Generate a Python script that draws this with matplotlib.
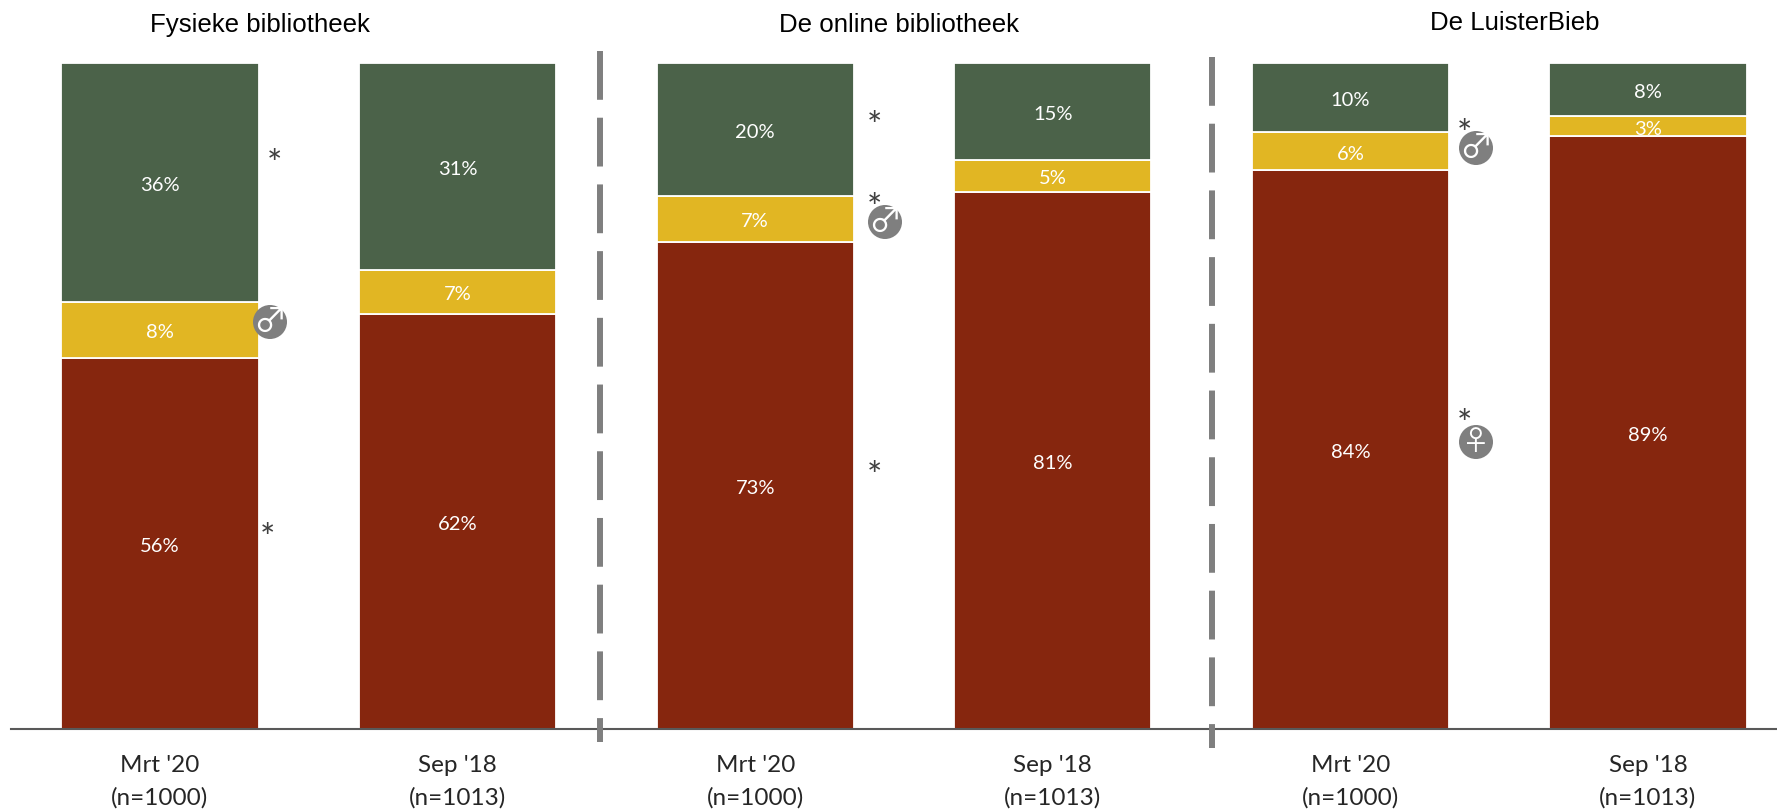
import matplotlib
matplotlib.use("Agg")
import matplotlib.pyplot as plt
from matplotlib.lines import Line2D
from matplotlib.patches import Ellipse
from matplotlib.transforms import Affine2D
import numpy as np

W, H = 1777, 811

# bars are drawn to 100 in total
periods = ["Mrt '20\n(n=1000)", "Sep '18\n(n=1013)"] * 3
titles = ["Fysieke bibliotheek", "De online bibliotheek", "De LuisterBieb"]
red_vals = [55.7, 62.3, 73.1, 80.6, 83.9, 89.0]
yellow_vals = [8.4, 6.6, 7.0, 4.8, 5.7, 3.0]
green_vals = [35.9, 31.1, 19.9, 14.6, 10.4, 8.0]

RED = "#86260E"
YELLOW = "#E1B623"
GREEN = "#4B6249"
GREY = "#7F7F7F"
TEXT = "#262626"

plt.rcParams["font.family"] = ["Lato", "DejaVu Sans"]

fig = plt.figure(figsize=(W / 100, H / 100), dpi=100)
# pixel coordinates of the reference, y going down
px = Affine2D().scale(1, -1).translate(0, H)

ax = fig.add_axes([11 / W, (H - 729) / H, (W - 11) / W, 666 / H])
ax.patch.set_visible(False)
step = 297.6
ax.set_xlim((11 - 160) / step, (W - 160) / step)
ax.set_ylim(0, 100)

x = np.arange(len(red_vals))
bottom = np.zeros(len(x))
for vals, colour in [(red_vals, RED), (yellow_vals, YELLOW), (green_vals, GREEN)]:
    bars = ax.bar(x, vals, width=197.3 / step, bottom=bottom, color=colour,
                  edgecolor="white", linewidth=1.3)
    labels = ax.bar_label(bars, labels=[f"{v:.0f}%" for v in vals], label_type="center",
                          color="white", fontsize=14.5)
    for lab in labels:
        lab.xyann = (0, -2)
    bottom += vals

for side in ["top", "left", "right"]:
    ax.spines[side].set_visible(False)
ax.spines["bottom"].set_color("#595959")
ax.spines["bottom"].set_linewidth(1.5)
ax.set_yticks([])
ax.set_xticks(x, periods, fontsize=17.5, color=TEXT, linespacing=1.6)
ax.tick_params(axis="x", length=0, pad=19)

for name, tx, ty in zip(titles, [260, 899, 1515], [25, 25, 23]):
    fig.text(tx, ty, name, transform=px, ha="center", va="center", color="black",
             fontsize=18.6, family="Liberation Sans")

# dashed separators between the three panels
for sx, y0, y1 in [(600, 51, 742), (1212, 57, 748)]:
    fig.add_artist(Line2D([sx, sx], [y0, y1], transform=px, color=GREY, lw=4.3,
                          linestyle=(0, (8.17, 3.0)), dash_capstyle="butt", zorder=5))

# significance stars and gender badges
for sx, sy in [(274, 156), (267, 530), (874, 117), (874, 199), (874, 467),
               (1464, 125), (1464, 416)]:
    fig.text(sx, sy + 10, "*", transform=px, ha="center", va="center", color="#404040",
             fontsize=26)

for cx, cy, symbol, size in [(270, 322, "♂", 24), (885, 222, "♂", 24),
                             (1476, 148, "♂", 24), (1476, 442, "♀", 20)]:
    fig.add_artist(Ellipse((cx, cy), 34, 34, transform=px, facecolor=GREY,
                           edgecolor="none", zorder=6))
    fig.text(cx, cy, symbol, transform=px, ha="center", va="center", color="white",
             fontsize=size, family=["Noto Sans CJK JP", "DejaVu Sans"], zorder=7)

fig.savefig("out.png", dpi=100)
